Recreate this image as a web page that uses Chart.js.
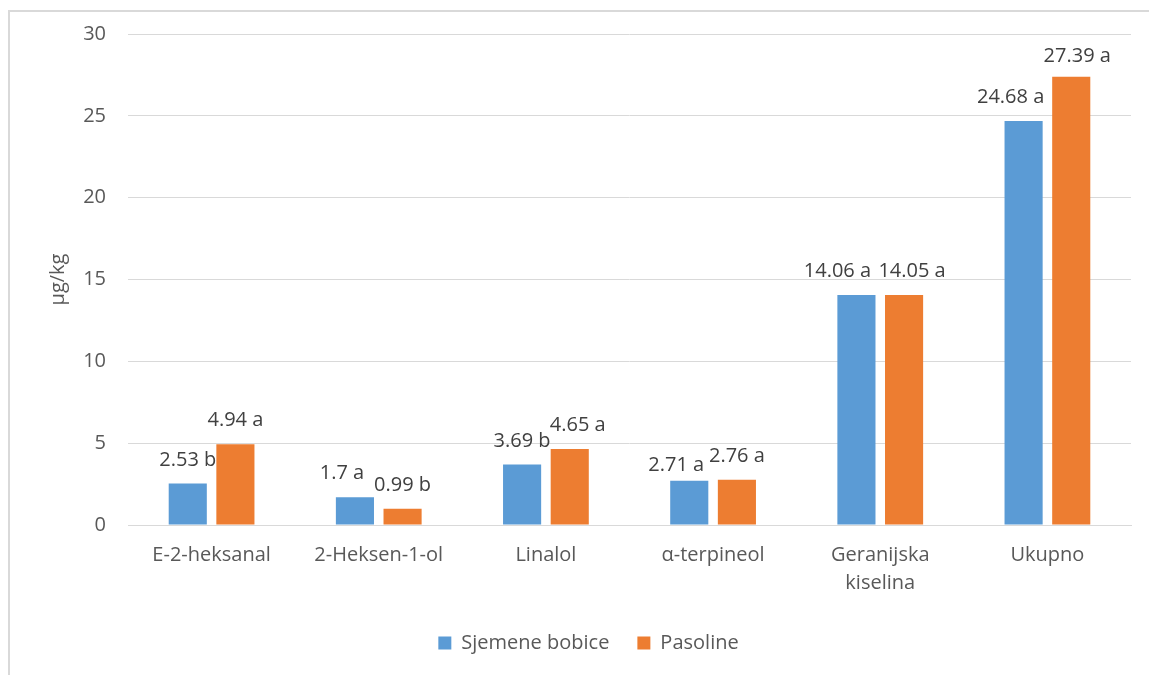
<!DOCTYPE html>
<html>
<head>
<meta charset="utf-8">
<script src="https://cdn.jsdelivr.net/npm/chart.js@4.4.1/dist/chart.umd.min.js"></script>
<style>
  html, body { margin: 0; padding: 0; background: #fff; overflow: hidden; }
  #frame {
    position: absolute; left: 8px; top: 10px;
    width: 1200px; height: 700px;
    border: 2px solid #d9d9d9;
  }
  #wrap { position: absolute; left: 0; top: 0; width: 1149px; height: 675px; }
</style>
</head>
<body>
<div id="frame"></div>
<div id="wrap"><canvas id="chart"></canvas></div>
<script>
// kategorije i vrijednosti (µg/kg)
const kategorije = ['E-2-heksanal', '2-Heksen-1-ol', 'Linalol', 'α-terpineol', ['Geranijska', 'kiselina'], 'Ukupno'];
const sjemeneBobice = [2.53, 1.7, 3.69, 2.71, 14.06, 24.68];
const pasoline = [4.94, 0.99, 4.65, 2.76, 14.05, 27.39];
const slovaSjemene = ['b', 'a', 'b', 'a', 'a', 'a'];
const slovaPasoline = ['a', 'b', 'a', 'a', 'a', 'a'];
const yTicks = [0, 5, 10, 15, 20, 25, 30];

const FONT = '"Open Sans", sans-serif';
const TEXT = '#595959';

// pomaci oznaka kao u Excelu (da se ne preklapaju)
const pomaci = [
  [[0, 0], [-13, 0], [0, 0], [-13, 8], [-19, 0], [-13, 0]],
  [[0, 0], [0, 0], [8, 0], [0, 0], [8, 0], [6, 3]]
];

// oznake iznad stupaca (vrijednost + slovo)
const oznakePlugin = {
  id: 'oznake',
  afterDatasetsDraw(chart) {
    const ctx = chart.ctx;
    ctx.save();
    ctx.font = '20px ' + FONT;
    ctx.fillStyle = '#404040';
    ctx.textAlign = 'center';
    ctx.textBaseline = 'alphabetic';
    chart.data.datasets.forEach((ds, i) => {
      const meta = chart.getDatasetMeta(i);
      meta.data.forEach((bar, j) => {
        const txt = ds.data[j] + ' ' + ds.slova[j];
        const [dx, dy] = pomaci[i][j];
        ctx.fillText(txt, bar.x + dx, bar.y - 18 + dy);
      });
    });
    ctx.restore();
  }
};

const ctx = document.getElementById('chart').getContext('2d');
const myChart = new Chart(ctx, {
  type: 'bar',
  data: {
    labels: kategorije,
    datasets: [
      { label: 'Sjemene bobice', data: sjemeneBobice, slova: slovaSjemene, backgroundColor: '#5B9BD5' },
      { label: 'Pasoline', data: pasoline, slova: slovaPasoline, backgroundColor: '#ED7D31' }
    ]
  },
  options: {
    responsive: true,
    maintainAspectRatio: false,
    animation: false,
    categoryPercentage: 0.57,
    barPercentage: 0.8,
    layout: { padding: { left: 46, top: 33, right: 18, bottom: 12 } },
    plugins: {
      legend: {
        position: 'bottom',
        labels: {
          font: { family: FONT, size: 20 },
          color: TEXT,
          boxWidth: 13,
          boxHeight: 13,
          padding: 28
        }
      },
      tooltip: { enabled: false }
    },
    scales: {
      x: {
        grid: { display: false },
        border: { color: '#d9d9d9' },
        ticks: {
          font: { family: FONT, size: 20, lineHeight: 1.4 },
          color: TEXT,
          maxRotation: 0,
          padding: 8
        }
      },
      y: {
        min: 0,
        max: 30,
        afterBuildTicks: (scale) => { scale.ticks = yTicks.map(v => ({ value: v })); },
        afterFit: (scale) => { scale.width = 82; },
        grid: { color: '#d9d9d9', drawTicks: false },
        border: { display: false },
        ticks: {
          font: { family: FONT, size: 20 },
          color: TEXT,
          padding: 22
        },
        title: {
          display: true,
          text: 'µg/kg',
          font: { family: FONT, size: 20 },
          color: TEXT,
          padding: 0
        }
      }
    }
  },
  plugins: [oznakePlugin]
});
</script>
</body>
</html>
